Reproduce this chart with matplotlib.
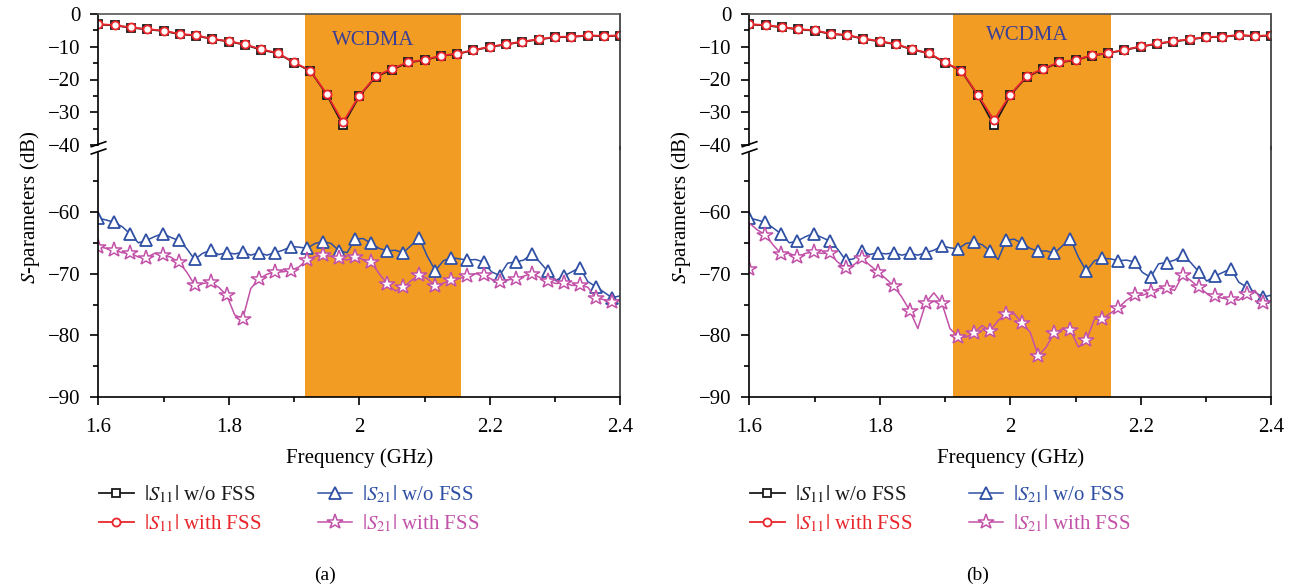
import numpy as np
import matplotlib.pyplot as plt
from matplotlib.lines import Line2D

plt.rcParams['font.family'] = ['Liberation Serif', 'DejaVu Serif']
plt.rcParams['mathtext.fontset'] = 'stix'
plt.rcParams['axes.unicode_minus'] = True

W, H = 1295, 588

# |S11| markers every 0.025 GHz
freq_s11 = np.round(1.6 + 0.025 * np.arange(33), 4)
# |S21| traces: markers on every second sample, last sample at the axis edge
freq_s21 = np.round(1.6 + 0.0123 * np.arange(66), 4)

s11_wo_a = [-3.2, -3.5, -4.2, -4.7, -5.2, -6.2, -6.6, -7.7, -8.4, -9.4, -11.0,
            -12.0, -14.9, -17.4, -24.6, -34.0, -25.1, -19.2, -17.0, -14.8, -14.1,
            -12.8, -12.2, -11.1, -10.1, -9.3, -8.5, -7.8, -7.1, -7.0, -6.6, -6.8, -6.6]
s11_w_a = [-3.1, -3.4, -4.1, -4.6, -5.1, -6.1, -6.5, -7.6, -8.3, -9.3, -10.8,
           -11.9, -14.8, -17.3, -24.4, -33.1, -24.9, -19.0, -16.7, -14.7, -14.0,
           -12.7, -12.1, -11.0, -10.0, -9.2, -8.4, -7.7, -7.0, -6.9, -6.5, -6.7, -6.5]
s11_wo_b = [-3.2, -3.5, -4.1, -4.7, -5.1, -6.1, -6.5, -7.6, -8.4, -9.3, -10.9,
            -12.0, -14.9, -17.4, -24.8, -34.0, -24.8, -19.2, -16.9, -14.8, -14.1,
            -12.7, -12.0, -11.0, -10.0, -9.1, -8.4, -7.8, -7.1, -7.0, -6.5, -6.8, -6.6]
s11_w_b = [-3.1, -3.4, -4.0, -4.6, -5.0, -6.0, -6.4, -7.5, -8.3, -9.2, -10.8,
           -11.9, -14.8, -17.3, -24.6, -32.4, -24.6, -19.0, -16.7, -14.7, -14.0,
           -12.6, -11.9, -10.9, -9.9, -9.0, -8.3, -7.7, -7.0, -6.9, -6.4, -6.7, -6.5]

s21_wo_a = [-61.0, -61.3, -61.7, -62.4, -63.6, -65.0, -64.6, -64.0, -63.5, -64.1,
            -64.6, -65.9, -67.7, -66.7, -66.2, -66.9, -66.6, -66.8, -66.5, -67.0,
            -66.6, -67.0, -66.6, -66.2, -65.6, -65.7, -65.9, -65.1, -64.8, -65.1,
            -66.3, -66.6, -64.4, -64.3, -65.1, -65.9, -66.3, -66.2, -66.6, -65.4,
            -64.2, -67.2, -69.5, -67.9, -67.4, -67.6, -67.8, -67.7, -68.1, -69.7,
            -70.3, -68.3, -68.1, -67.8, -66.8, -68.1, -69.6, -71.1, -70.4, -69.7,
            -69.0, -71.3, -72.1, -73.0, -73.9, -73.6]
s21_w_a = [-65.6, -65.9, -66.2, -66.6, -66.7, -67.3, -67.4, -66.7, -67.0, -67.3,
           -68.1, -69.7, -71.8, -71.6, -71.4, -72.2, -73.5, -76.7, -77.3, -72.4,
           -70.9, -70.1, -69.7, -69.7, -69.5, -68.9, -67.8, -67.2, -67.0, -67.2,
           -67.5, -67.8, -67.3, -67.7, -68.1, -70.0, -71.7, -72.8, -72.2, -71.1,
           -70.2, -70.8, -72.0, -71.5, -71.1, -70.8, -70.4, -70.0, -70.2, -70.9,
           -71.3, -71.0, -70.9, -70.4, -70.0, -70.6, -71.2, -71.6, -71.5, -71.9,
           -71.9, -72.2, -74.0, -74.2, -74.6, -74.2]
s21_wo_b = [-61.0, -61.3, -61.7, -62.6, -63.6, -65.0, -64.7, -64.0, -63.5, -64.1,
            -64.7, -66.0, -67.8, -67.6, -66.3, -66.9, -66.6, -66.8, -66.6, -67.0,
            -66.7, -67.0, -66.6, -66.2, -65.5, -65.8, -66.0, -65.1, -64.9, -65.3,
            -66.3, -67.7, -64.6, -64.4, -65.1, -65.9, -66.4, -66.3, -66.7, -65.5,
            -64.3, -67.3, -69.6, -67.9, -67.5, -67.6, -67.9, -67.8, -68.1, -69.8,
            -70.6, -68.4, -68.2, -67.8, -67.0, -68.2, -69.7, -71.2, -70.4, -69.8,
            -69.2, -71.4, -72.2, -73.0, -73.8, -73.5]
# (b) with FSS starts with a vertical jump at 1.6 GHz
freq_s21_w_b = np.concatenate([[1.6], freq_s21])
s21_w_b = [-69.3, -61.8, -62.9, -63.7, -65.4, -66.8, -66.7, -67.3, -66.7, -66.5, -66.7,
           -66.7, -68.1, -69.1, -68.6, -67.5, -68.6, -69.7, -70.8, -72.0, -73.8,
           -76.0, -78.9, -74.7, -73.1, -74.8, -78.9, -80.2, -80.3, -79.6, -78.4,
           -79.3, -77.6, -76.5, -76.5, -78.0, -79.5, -83.3, -81.9, -79.6, -79.0,
           -79.1, -81.9, -80.8, -77.4, -77.3, -76.4, -75.5, -74.3, -73.5, -73.5,
           -73.0, -72.4, -72.4, -72.7, -70.2, -71.1, -72.2, -73.2, -73.6, -74.0,
           -74.1, -74.3, -73.3, -72.7, -74.7, -74.4]

band_a = (1.9165, 2.1565)
band_b = (1.912, 2.155)
wcdma_pos_a = (2.021, -8.2)
wcdma_pos_b = (2.026, -6.7)

C_BLACK = '#1a1a1a'
C_RED = '#E8262B'
C_BLUE = '#2E4FA3'
C_MAG = '#C251A8'
C_BAND = '#F39C24'
FS = 15


def style_axes(ax):
    ax.set_facecolor('none')
    ax.tick_params(axis='both', which='both', direction='out', labelsize=FS,
                   width=1.2, right=False, top=False)
    ax.tick_params(which='major', length=6)
    ax.tick_params(which='minor', length=3.5)
    ax.tick_params(axis='y', pad=7)
    ax.tick_params(axis='x', pad=9)
    for side in ['left', 'right', 'top', 'bottom']:
        ax.spines[side].set_linewidth(1.2)
    ax.spines['top'].set_color('#555555')
    ax.spines['right'].set_color('#333333')


def draw_panel(left_px, caption, s11_wo, s11_w, x_wo, s21_wo, x_w, s21_w, w_marks,
               band, wcdma_pos, ylabel):
    right_px = left_px + 522.0
    top_px, mid_px, bot_px = 14.0, 147.5, 397.0
    l = left_px / W
    w = (right_px - left_px) / W
    # upper part reaches 1.5 px into the lower one so the band has no seam
    ax_bot = fig.add_axes([l, 1 - bot_px / H, w, (bot_px - mid_px) / H])
    ax_top = fig.add_axes([l, 1 - (mid_px + 1.5) / H, w, (mid_px + 1.5 - top_px) / H])

    for ax in (ax_top, ax_bot):
        ax.axvspan(band[0], band[1], color=C_BAND, lw=0, zorder=0)
        ax.set_xlim(1.6, 2.4)
        style_axes(ax)

    # upper part: |S11|
    h1, = ax_top.plot(freq_s11, s11_wo, '-s', color=C_BLACK, lw=1.3, ms=5.5,
                      mfc='white', mec=C_BLACK, mew=1.3)
    h2, = ax_top.plot(freq_s11, s11_w, '-o', color=C_RED, lw=1.3, ms=5.8,
                      mfc='white', mec=C_RED, mew=1.3)
    ax_top.set_ylim(-40 - 4.0 / 3.275, 0)
    ax_top.set_yticks([0, -10, -20, -30, -40])
    ax_top.set_yticks([-5, -15, -25, -35], minor=True)
    ax_top.spines['bottom'].set_visible(False)
    ax_top.spines['left'].set_bounds(-40, 0)
    ax_top.tick_params(axis='x', which='both', bottom=False, labelbottom=False)
    ax_top.text(wcdma_pos[0], wcdma_pos[1], 'WCDMA', color='#3A3F95', fontsize=15,
                ha='center', va='center')

    # lower part: |S21|
    h3, = ax_bot.plot(x_wo, s21_wo, '-^', color=C_BLUE, lw=1.1, ms=8,
                      mfc='white', mec=C_BLUE, mew=1.3, markevery=(0, 2))
    h4, = ax_bot.plot(x_w, s21_w, '-*', color=C_MAG, lw=1.1, ms=11.5,
                      mfc='white', mec=C_MAG, mew=1.1, markevery=w_marks)
    ax_bot.set_ylim(-90, -49.54)
    ax_bot.set_yticks([-60, -70, -80, -90])
    ax_bot.set_yticks([-55, -65, -75, -85], minor=True)
    ax_bot.set_xticks([1.6, 1.8, 2.0, 2.2, 2.4])
    ax_bot.set_xticklabels(['1.6', '1.8', '2', '2.2', '2.4'])
    ax_bot.set_xticks([1.7, 1.9, 2.1, 2.3], minor=True)
    ax_bot.spines['top'].set_visible(False)
    ax_bot.spines['left'].set_bounds(-90, -50.5)

    # break marks on the left spine
    for y0 in (146.7, 154.0):
        fig.add_artist(Line2D([(left_px - 7) / W, (left_px + 7.5) / W],
                              [1 - y0 / H, 1 - (y0 - 5) / H],
                              color='black', lw=1.2))

    fig.text((left_px + right_px) / 2 / W, 1 - 458 / H, 'Frequency (GHz)',
             fontsize=FS, ha='center', va='center')
    fig.text((left_px - 68) / W, 1 - 207 / H, ylabel, fontsize=FS,
             rotation=90, ha='center', va='center')

    handles = [h1, h2, h3, h4]
    labels = [r'$|S_{11}|$ w/o FSS', r'$|S_{11}|$ with FSS',
              r'$|S_{21}|$ w/o FSS', r'$|S_{21}|$ with FSS']
    leg = fig.legend(handles, labels, loc='upper left', ncol=2, frameon=False,
                     bbox_to_anchor=((left_px + 1) / W, 1 - 483.5 / H),
                     fontsize=FS, handlelength=1.65, handletextpad=0.5,
                     columnspacing=2.7, labelspacing=0.35, borderpad=0,
                     borderaxespad=0, markerscale=1.0)
    for txt, c in zip(leg.get_texts(), [C_BLACK, C_RED, C_BLUE, C_MAG]):
        txt.set_color(c)

    fig.text(caption[1] / W, 1 - 575 / H, caption[0], fontsize=FS - 1,
             ha='center', va='center')


fig = plt.figure(figsize=(W / 100, H / 100), dpi=100)

marks_a = list(range(0, 65, 2))
marks_b = [0] + list(range(3, 66, 2))

draw_panel(98.3, ('(a)', 325), s11_wo_a, s11_w_a, freq_s21, s21_wo_a,
           freq_s21, s21_w_a, marks_a, band_a, wcdma_pos_a,
           r'$\mathit{S}$-parameters (dB)')
draw_panel(749.3, ('(b)', 978), s11_wo_b, s11_w_b, freq_s21, s21_wo_b,
           freq_s21_w_b, s21_w_b, marks_b, band_b, wcdma_pos_b,
           r'$\mathit{S}$-parameters (dB)')

fig.savefig('out.png', dpi=100)
